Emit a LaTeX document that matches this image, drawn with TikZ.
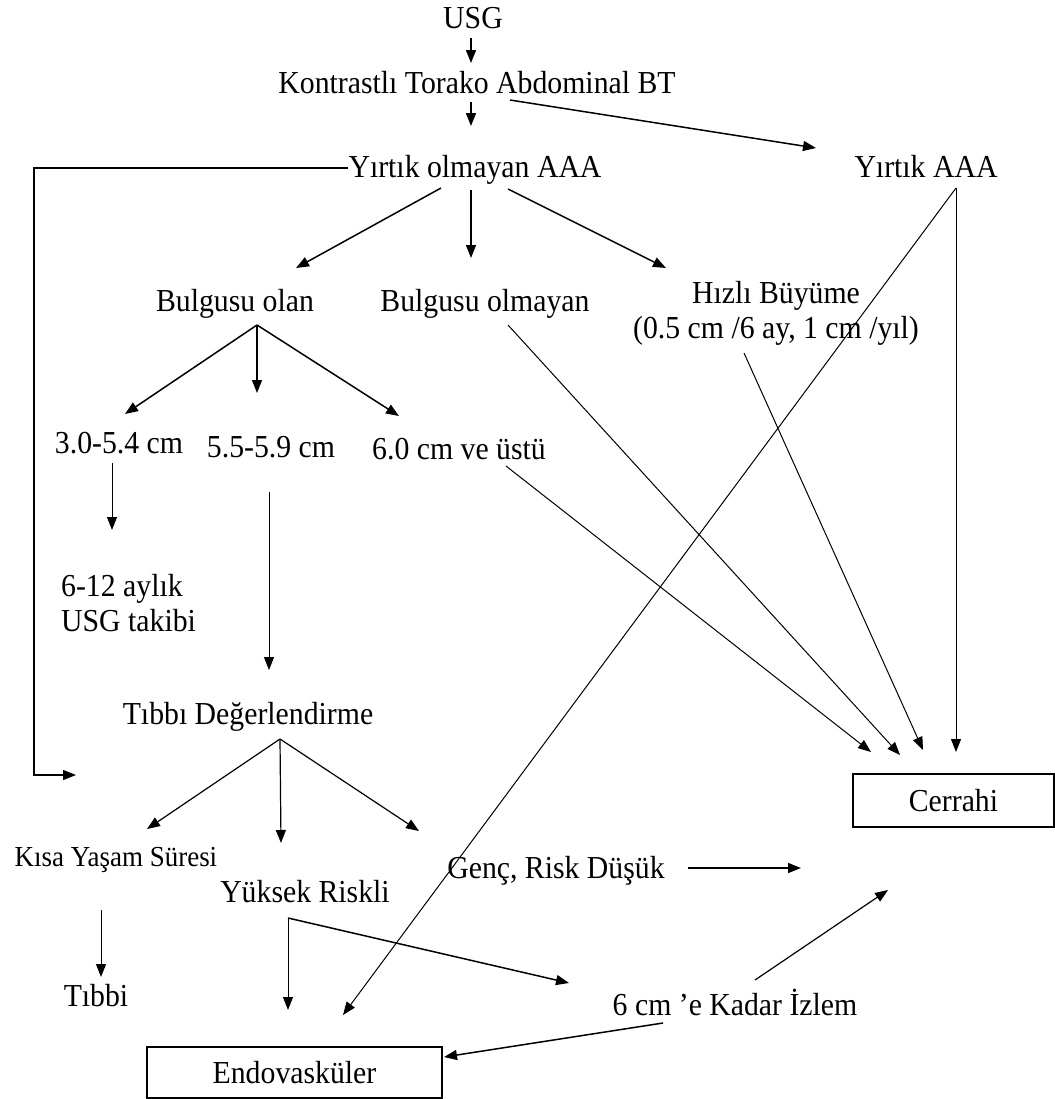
\documentclass[tikz,border=0pt]{standalone}
\usepackage{fontspec}
\setmainfont{Liberation Serif}[FakeStretch=0.93]
\usetikzlibrary{arrows.meta}

\begin{document}
\begin{tikzpicture}[x=1bp, y=-1bp,
  lbl/.style={font=\fontsize{32bp}{35bp}\selectfont, inner sep=0pt},
  box/.style={lbl, draw, line width=1.4bp},
  arr/.style={-{Triangle[length=13bp,width=10bp]}, line width=1.5bp},
  thinarr/.style={-{Triangle[length=13bp,width=10bp]}, line width=1bp}]
\useasboundingbox (0,0) rectangle (1055,1099);

% Imaging
\node[lbl, anchor=base] (usg) at (473,28) {USG};
\node[lbl, anchor=base] (bt) at (477,93) {Kontrastlı Torako Abdominal BT};
\node[lbl, anchor=base] (intact) at (475,177) {Yırtık olmayan AAA};
\node[lbl, anchor=base] (rupt) at (926,177) {Yırtık AAA};

% Non-ruptured branches
\node[lbl, anchor=base] (sympt) at (235,311) {Bulgusu olan};
\node[lbl, anchor=base] (asympt) at (485,311) {Bulgusu olmayan};
\node[lbl, anchor=base, align=center] (rapid) at (776,338) {Hızlı Büyüme\\(0.5 cm /6 ay, 1 cm /yıl)};

% Diameter groups
\node[lbl, anchor=base] (small) at (119,453) {3.0-5.4 cm};
\node[lbl, anchor=base] (mid) at (271,457) {5.5-5.9 cm};
\node[lbl, anchor=base] (large) at (459,459) {6.0 cm ve üstü};
\node[lbl, anchor=base west, align=left] (follow) at (61,631) {6-12 aylık\\USG takibi};
\node[lbl, anchor=base] (medeval) at (248,724) {Tıbbı Değerlendirme};

% Risk groups
\node[lbl, anchor=base, font=\fontsize{29bp}{32bp}\selectfont] (shortlife) at (116,866) {Kısa Yaşam Süresi};
\node[lbl, anchor=base] (highrisk) at (305,902) {Yüksek Riskli};
\node[lbl, anchor=base] (young) at (556,878) {Genç, Risk Düşük};
\node[lbl, anchor=base] (medical) at (96,1006) {Tıbbi};
\node[lbl, anchor=base] (watch) at (735,1015) {6 cm ’e Kadar İzlem};

% Treatments
\node[box, minimum width=295bp, minimum height=51bp] (evar) at (294.5,1072.5) {Endovasküler};
\node[box, minimum width=201bp, minimum height=53bp] (surgery) at (953.5,800.5) {Cerrahi};

% Connector ends
\coordinate (usg-s) at (471,38);     \coordinate (bt-n) at (471,63);
\coordinate (bt-s) at (471,102);     \coordinate (intact-n) at (471,126);
\coordinate (bt-se) at (510,100);    \coordinate (rupt-nw) at (816,148);
\coordinate (intact-w) at (348,168); \coordinate (loop-a) at (34,168);
\coordinate (loop-b) at (34,775);    \coordinate (loop-c) at (76,775);
\coordinate (intact-sw) at (441,188); \coordinate (sympt-ne) at (296,268);
\coordinate (intact-s) at (471,190); \coordinate (asympt-n) at (471,258);
\coordinate (intact-se) at (508,189); \coordinate (rapid-nw) at (666,268);
\coordinate (sympt-s) at (257,325);
\coordinate (small-n) at (125,414);  \coordinate (mid-n) at (257,393);
\coordinate (large-n) at (399,416);
\coordinate (small-s) at (112,463);  \coordinate (follow-n) at (112,530);
\coordinate (mid-s) at (269,492);    \coordinate (medeval-n) at (269,670);
\coordinate (medeval-s) at (280,739);
\coordinate (short-n) at (147,829);  \coordinate (high-n) at (281,843);
\coordinate (young-n) at (419,831);
\coordinate (short-s) at (101,910);  \coordinate (medical-n) at (101,977);
\coordinate (high-s) at (288,918);   \coordinate (evar-n) at (288,1010);
\coordinate (watch-nw) at (569,983);
\coordinate (young-e) at (688,868);  \coordinate (surgery-w) at (801,868);
\coordinate (watch-ne) at (755,980); \coordinate (surgery-sw) at (888,890);
\coordinate (watch-w) at (663,1023); \coordinate (evar-e) at (444,1057);
\coordinate (rupt-s) at (956,188);   \coordinate (evar-ne) at (343,1015);
\coordinate (asympt-s) at (508,325); \coordinate (large-s) at (506,466);
\coordinate (rapid-s) at (744,353);
\coordinate (surgery-n1) at (871,752); \coordinate (surgery-n2) at (900,755);
\coordinate (surgery-n3) at (923,750); \coordinate (surgery-n4) at (956,752);

% Top of the chart
\draw[arr] (usg-s) -- (bt-n);
\draw[arr] (bt-s) -- (intact-n);
\draw[arr] (bt-se) -- (rupt-nw);
\draw[arr] (intact-w) -- (loop-a) -- (loop-b) -- (loop-c);
\draw[arr] (intact-sw) -- (sympt-ne);
\draw[arr] (intact-s) -- (asympt-n);
\draw[arr] (intact-se) -- (rapid-nw);

% Symptomatic
\draw[arr] (sympt-s) -- (small-n);
\draw[arr] (sympt-s) -- (mid-n);
\draw[arr] (sympt-s) -- (large-n);
\draw[thinarr] (small-s) -- (follow-n);
\draw[thinarr] (mid-s) -- (medeval-n);

% Medical evaluation
\draw[thinarr, line width=1.2bp] (medeval-s) -- (short-n);
\draw[thinarr, line width=1.2bp] (medeval-s) -- (high-n);
\draw[thinarr, line width=1.2bp] (medeval-s) -- (young-n);
\draw[thinarr] (short-s) -- (medical-n);
\draw[thinarr] (high-s) -- (evar-n);
\draw[arr] (high-s) -- (watch-nw);
\draw[arr] (young-e) -- (surgery-w);
\draw[thinarr, line width=1.2bp] (watch-ne) -- (surgery-sw);
\draw[arr] (watch-w) -- (evar-e);

% Long lines to treatments
\draw[thinarr] (rupt-s) -- (surgery-n4);
\draw[thinarr] (rupt-s) -- (evar-ne);
\draw[thinarr] (asympt-s) -- (surgery-n2);
\draw[thinarr] (large-s) -- (surgery-n1);
\draw[thinarr] (rapid-s) -- (surgery-n3);
\end{tikzpicture}
\end{document}
